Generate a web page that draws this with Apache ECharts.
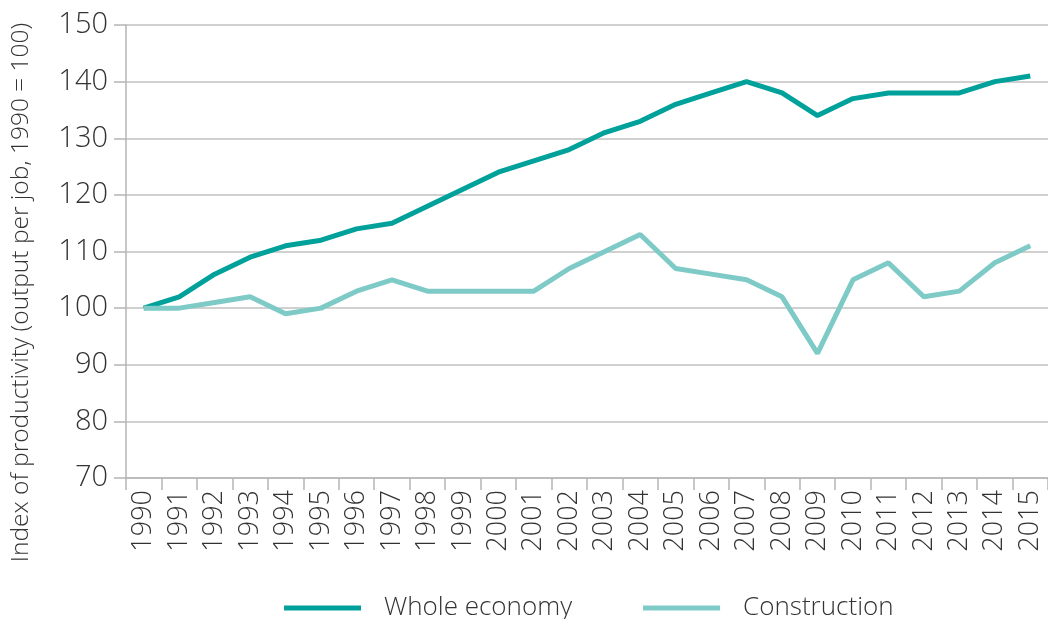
<!DOCTYPE html>
<html><head><meta charset="utf-8">
<script src="https://cdn.jsdelivr.net/npm/echarts@6/dist/echarts.min.js"></script>
<style>html,body{margin:0;padding:0;background:#fff}#c{width:1048px;height:619px}</style>
</head><body><div id="c"></div>
<script>
const years = ['1990','1991','1992','1993','1994','1995','1996','1997','1998','1999','2000','2001','2002','2003','2004','2005','2006','2007','2008','2009','2010','2011','2012','2013','2014','2015'];
const wholeEconomy = [100,102,106,109,111,112,114,115,118,121,124,126,128,131,133,136,138,140,138,134,137,138,138,138,140,141];
const construction = [100,100,101,102,99,100,103,105,103,103,103,103,107,110,113,107,106,105,102,92,105,108,102,103,108,111];
const seriesNames = ['Whole economy','Construction'];
const yTicks = {min:70, max:150, interval:10};

const font = '"Open Sans", "Noto Sans", sans-serif';
const chart = echarts.init(document.getElementById('c'));
chart.setOption({
  animation:false,
  textStyle:{fontFamily:font},
  grid:{left:126, right:0, top:25, bottom:141, containLabel:false, outerBoundsMode:'none'},
  legend:{
    left:279, top:590, itemWidth:77, itemHeight:5, itemGap:71,
    icon:'rect',
    textStyle:{fontSize:26, color:'#333', fontFamily:font, fontWeight:300, padding:[0,0,0,18]},
    data:seriesNames
  },
  xAxis:{
    type:'category', data:years, boundaryGap:true,
    axisLine:{lineStyle:{color:'#b5b5b5', width:1.5}},
    axisTick:{show:true, interval:0, length:12, lineStyle:{color:'#b5b5b5', width:1.5}},
    axisLabel:{rotate:90, interval:0, fontSize:27, color:'#333', margin:12, fontFamily:font, fontWeight:300}
  },
  yAxis:{
    type:'value', min:yTicks.min, max:yTicks.max, interval:yTicks.interval,
    name:'Index of productivity (output per job, 1990 = 100)',
    nameLocation:'middle', nameGap:92, nameRotate:90,
    nameTextStyle:{fontSize:24.5, color:'#333', fontFamily:font, fontWeight:300, padding:[0,82,0,0]},
    axisLine:{show:true, lineStyle:{color:'#b5b5b5', width:1.5}},
    axisTick:{show:true, length:12, lineStyle:{color:'#b5b5b5', width:1.5}},
    axisLabel:{fontSize:29, color:'#333', margin:18, fontFamily:font, fontWeight:300},
    splitLine:{lineStyle:{color:'#c0c0c0', width:1.5}}
  },
  series:[
    {name:seriesNames[0], type:'line', data:wholeEconomy, symbol:'none',
     itemStyle:{color:'#00a19a'}, lineStyle:{color:'#00a19a', width:5}},
    {name:seriesNames[1], type:'line', data:construction, symbol:'none',
     itemStyle:{color:'#7ecac7'}, lineStyle:{color:'#7ecac7', width:5}}
  ]
});
</script>
</body></html>
